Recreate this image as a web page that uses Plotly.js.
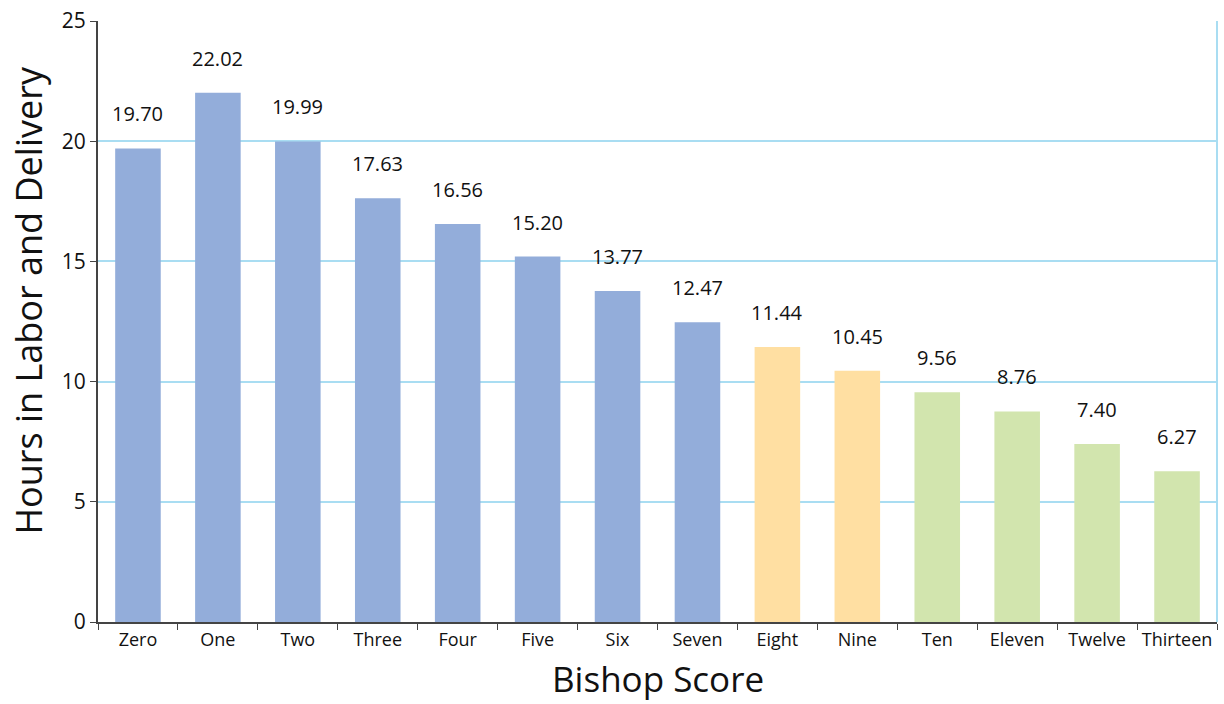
<!DOCTYPE html>
<html><head><meta charset="utf-8">
<script src="https://cdn.plot.ly/plotly-3.0.1.min.js"></script>
<style>body{margin:0;background:#fff}#c{width:1224px;height:704px}</style>
</head><body><div id="c"></div>
<script>
const categories = ["Zero","One","Two","Three","Four","Five","Six","Seven","Eight","Nine","Ten","Eleven","Twelve","Thirteen"];
const hours = [19.70,22.02,19.99,17.63,16.56,15.20,13.77,12.47,11.44,10.45,9.56,8.76,7.40,6.27];
const groups = ["blue","blue","blue","blue","blue","blue","blue","blue","yellow","yellow","green","green","green","green"];
const palette = {blue:"#93ADDA", yellow:"#FFDFA2", green:"#D2E5AE"};
const font = "Open Sans, Noto Sans, sans-serif";

const trace = {
  type:"bar", x:categories, y:hours,
  marker:{color:groups.map(g=>palette[g])},
  hoverinfo:"skip"
};
const annotations = categories.map((c,i)=>({
  x:c, y:hours[i], xref:"x", yref:"y", text:hours[i].toFixed(2),
  showarrow:false, yanchor:"bottom", yshift:19,
  font:{family:font, size:20, color:"#111"}
}));
annotations.push({
  xref:"paper", yref:"paper", x:-0.0625, y:0.535, xanchor:"center", yanchor:"middle",
  text:"Hours in Labor and Delivery", textangle:-90, showarrow:false,
  font:{family:font, size:36, color:"#111"}
});
annotations.push({
  xref:"paper", yref:"paper", x:0.5, y:-0.094, xanchor:"center", yanchor:"middle",
  text:"Bishop Score", showarrow:false,
  font:{family:font, size:35, color:"#111"}
});
const layout = {
  width:1224, height:704,
  margin:{l:98, r:7, t:21, b:82},
  paper_bgcolor:"#fff", plot_bgcolor:"#fff",
  bargap:0.43, showlegend:false,
  font:{family:font, color:"#111"},
  xaxis:{
    type:"category", tickson:"boundaries", ticks:"outside", ticklen:6, tickcolor:"#444",
    showline:true, linecolor:"#444", linewidth:2, showgrid:false, tickangle:0,
    tickfont:{size:18, family:font}, range:[-0.5,13.5]
  },
  yaxis:{
    range:[0,25], dtick:5, ticks:"outside", ticklen:6, tickcolor:"#444",
    showline:true, linecolor:"#444", linewidth:2,
    showgrid:true, gridcolor:"#A9DDF2", gridwidth:2, zeroline:false,
    tickfont:{size:21, family:font}
  },
  shapes:[{type:"line", xref:"paper", yref:"paper", x0:1, x1:1, y0:0, y1:1, line:{color:"#A9DDF2", width:2}}],
  annotations:annotations
};
Plotly.newPlot("c",[trace],layout,{displayModeBar:false,staticPlot:true});
</script></body></html>
